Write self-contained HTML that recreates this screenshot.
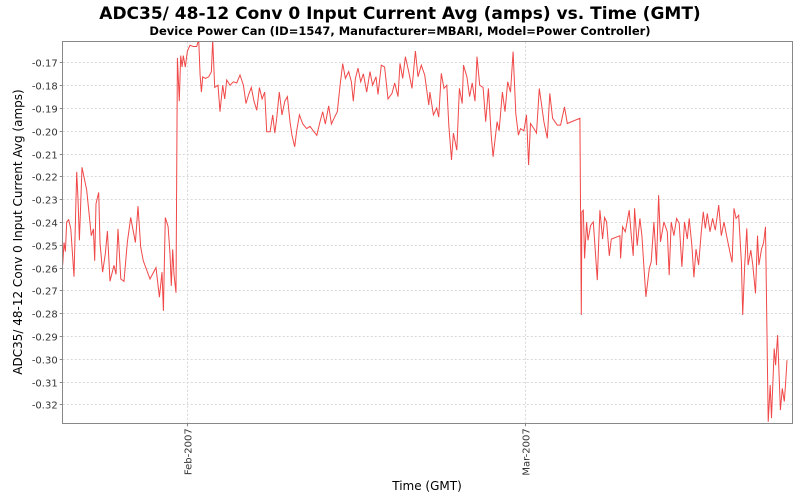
<!DOCTYPE html>
<html><head><meta charset="utf-8"><style>
html,body{margin:0;padding:0;background:#fff;}
svg{display:block;font-family:"DejaVu Sans","Liberation Sans",sans-serif;}
</style></head><body>
<svg id="chart" width="800" height="500">
<rect x="0" y="0" width="800" height="500" fill="#fff"/>
<text x="400" y="19" text-anchor="middle" font-size="17" font-weight="bold" fill="#000">ADC35/ 48-12 Conv 0 Input Current Avg (amps) vs. Time (GMT)</text>
<text x="400" y="35" text-anchor="middle" font-size="11.5" font-weight="bold" fill="#000">Device Power Can (ID=1547, Manufacturer=MBARI, Model=Power Controller)</text>
<g id="grid"></g>
<g id="yticks"></g>
<g id="xticks"></g>
<g id="series"></g>
<rect x="62.5" y="41.5" width="730" height="382" fill="none" stroke="#888" stroke-width="1"/>
<text transform="translate(22,232) rotate(-90)" text-anchor="middle" font-size="12" fill="#000">ADC35/ 48-12 Conv 0 Input Current Avg (amps)</text>
<text x="427" y="490" text-anchor="middle" font-size="12" fill="#000">Time (GMT)</text>
</svg>
<script>
// days relative to 2007-02-01 00:00 GMT
const times = [-10.30,-10.19,-10.08,-9.97,-9.80,-9.63,-9.36,-9.14,-9.03,-8.92,-8.70,-8.31,-7.93,-7.76,-7.65,-7.54,-7.32,-7.21,-6.99,-6.77,-6.60,-6.38,-6.05,-5.88,-5.72,-5.49,-5.22,-4.95,-4.67,-4.28,-4.06,-3.84,-3.62,-3.07,-2.57,-2.29,-2.07,-1.96,-1.80,-1.57,-1.41,-1.30,-1.19,-1.08,-0.91,-0.80,-0.64,-0.52,-0.41,-0.31,-0.14,0.03,0.25,0.52,0.80,0.97,1.08,1.19,1.30,1.52,1.80,2.02,2.13,2.29,2.57,2.73,2.96,3.12,3.29,3.56,3.84,4.12,4.39,4.67,4.89,5.11,5.33,5.55,5.78,6.00,6.22,6.44,6.60,6.88,7.10,7.27,7.43,7.65,7.87,8.10,8.32,8.53,8.70,8.92,9.09,9.31,9.59,9.92,10.19,10.46,10.75,11.02,11.24,11.46,11.74,11.96,12.18,12.45,12.68,12.90,13.12,13.40,13.62,13.78,13.95,14.17,14.39,14.61,14.89,15.16,15.38,15.66,15.82,16.10,16.37,16.65,16.98,17.21,17.48,17.65,17.87,18.09,18.37,18.64,18.92,19.14,19.41,19.69,20.03,20.12,20.41,20.69,20.85,21.07,21.29,21.52,21.69,21.91,22.07,22.35,22.57,22.80,22.91,23.19,23.41,23.63,23.86,24.03,24.25,24.53,24.75,24.97,25.20,25.36,25.69,25.86,26.13,26.35,26.57,26.80,27.02,27.24,27.46,27.63,27.91,28.13,28.30,28.46,28.74,28.96,29.19,29.57,29.85,30.06,30.29,30.68,30.95,31.28,31.51,32.55,32.67,32.72,32.83,32.94,33.11,33.22,33.44,33.66,33.99,34.21,34.43,34.60,34.76,34.99,35.15,35.87,35.92,36.09,36.31,36.64,36.81,36.97,37.08,37.30,37.52,37.69,37.85,38.02,38.30,38.46,38.68,38.90,39.07,39.23,39.51,39.79,39.95,40.12,40.34,40.56,40.78,41.00,41.22,41.45,41.61,41.83,42.00,42.17,42.39,42.61,42.78,42.94,43.11,43.33,43.55,43.77,44.05,44.27,44.49,44.71,44.93,45.16,45.32,45.49,45.71,45.93,46.04,46.21,46.38,46.49,46.71,46.88,47.10,47.27,47.38,47.60,47.77,47.93,48.15,48.32,48.43,48.65,48.77,48.93,49.16,49.32,49.49,49.60,49.71];
const values = [-0.2588,-0.249,-0.253,-0.240,-0.239,-0.243,-0.264,-0.218,-0.230,-0.248,-0.216,-0.226,-0.246,-0.243,-0.257,-0.232,-0.227,-0.249,-0.262,-0.254,-0.244,-0.266,-0.259,-0.263,-0.243,-0.265,-0.266,-0.249,-0.238,-0.249,-0.233,-0.251,-0.257,-0.265,-0.260,-0.273,-0.262,-0.279,-0.238,-0.242,-0.254,-0.268,-0.252,-0.263,-0.271,-0.168,-0.187,-0.167,-0.172,-0.167,-0.172,-0.165,-0.1625,-0.163,-0.163,-0.160,-0.1755,-0.183,-0.1763,-0.177,-0.1763,-0.174,-0.160,-0.181,-0.180,-0.1916,-0.180,-0.186,-0.1777,-0.180,-0.1785,-0.179,-0.1755,-0.180,-0.188,-0.184,-0.181,-0.187,-0.191,-0.181,-0.186,-0.183,-0.2004,-0.2004,-0.193,-0.201,-0.1945,-0.183,-0.193,-0.187,-0.185,-0.196,-0.202,-0.207,-0.200,-0.193,-0.197,-0.199,-0.198,-0.200,-0.202,-0.196,-0.1916,-0.197,-0.189,-0.197,-0.1945,-0.1916,-0.180,-0.1705,-0.177,-0.174,-0.1785,-0.187,-0.177,-0.1725,-0.1785,-0.175,-0.183,-0.174,-0.180,-0.1763,-0.184,-0.1712,-0.172,-0.186,-0.1836,-0.179,-0.185,-0.1704,-0.177,-0.1675,-0.174,-0.1814,-0.165,-0.1763,-0.1712,-0.1755,-0.1887,-0.183,-0.193,-0.190,-0.194,-0.1748,-0.1814,-0.180,-0.1975,-0.2128,-0.201,-0.2085,-0.1814,-0.188,-0.1712,-0.1763,-0.185,-0.179,-0.187,-0.1675,-0.180,-0.181,-0.196,-0.1814,-0.2019,-0.2114,-0.196,-0.200,-0.183,-0.1916,-0.1785,-0.183,-0.1653,-0.1924,-0.2019,-0.199,-0.200,-0.193,-0.215,-0.1968,-0.199,-0.201,-0.1814,-0.196,-0.2033,-0.1836,-0.1945,-0.1975,-0.1975,-0.1895,-0.1968,-0.1945,-0.2808,-0.2355,-0.2348,-0.256,-0.240,-0.248,-0.2415,-0.240,-0.2655,-0.2348,-0.2475,-0.238,-0.240,-0.2548,-0.2475,-0.246,-0.256,-0.2421,-0.2443,-0.2348,-0.246,-0.2548,-0.234,-0.2504,-0.2384,-0.246,-0.2589,-0.2728,-0.2604,-0.2575,-0.240,-0.2589,-0.2282,-0.2487,-0.240,-0.2443,-0.2633,-0.240,-0.246,-0.2384,-0.2406,-0.2597,-0.240,-0.2475,-0.2384,-0.2504,-0.2643,-0.2519,-0.2589,-0.2443,-0.2355,-0.2428,-0.2362,-0.2443,-0.2384,-0.2436,-0.2326,-0.246,-0.240,-0.246,-0.2519,-0.2577,-0.234,-0.2384,-0.237,-0.2577,-0.2808,-0.2589,-0.2428,-0.2589,-0.2523,-0.2589,-0.2713,-0.246,-0.2589,-0.2519,-0.249,-0.2421,-0.3276,-0.3115,-0.326,-0.2955,-0.3028,-0.2896,-0.3225,-0.313,-0.3188,-0.3101,-0.3006];
const yTicks = [-0.17,-0.18,-0.19,-0.20,-0.21,-0.22,-0.23,-0.24,-0.25,-0.26,-0.27,-0.28,-0.29,-0.30,-0.31,-0.32];
const xTickDays = [0, 28];
const xTickLabels = ["Feb-2007", "Mar-2007"];

const X0=62.7, X1=792.3, Y0=41.7, Y1=423.3;
const xMin=-10.30, xMax=50.15, yMin=-0.3283, yMax=-0.1609;
const NS='http://www.w3.org/2000/svg';
function xs(d){return X0+(d-xMin)/(xMax-xMin)*(X1-X0);}
function ys(v){return Y1-(v-yMin)/(yMax-yMin)*(Y1-Y0);}
function mk(tag,attrs,parent){const e=document.createElementNS(NS,tag);for(const k in attrs)e.setAttribute(k,attrs[k]);parent.appendChild(e);return e;}
const grid=document.getElementById('grid'), yg=document.getElementById('yticks'), xg=document.getElementById('xticks'), sg=document.getElementById('series');
yTicks.forEach(v=>{
  const y=Math.round(ys(v))+0.5;
  const gl=mk('line',{x1:X0,x2:X1,y1:y,y2:y,stroke:'#d8d8d8','stroke-dasharray':'2,2'},grid);
  
  
  mk('line',{x1:X0-3,x2:X0,y1:y,y2:y,stroke:'#888'},yg);
  const t=mk('text',{x:X0-5,y:y+4,'text-anchor':'end','font-size':'10','fill':'#333'},yg);
  t.textContent=v.toFixed(2);
  
  
});
xTickDays.forEach((d,i)=>{
  const x=Math.round(xs(d))+0.5;
  const gl=mk('line',{x1:x,x2:x,y1:Y0,y2:Y1,stroke:'#d8d8d8','stroke-dasharray':'2,2'},grid);
  
  
  mk('line',{x1:x,x2:x,y1:Y1,y2:Y1+3,stroke:'#888'},xg);
  const t=mk('text',{transform:'translate('+(x+4)+','+(Y1+5)+') rotate(-90)','text-anchor':'end','font-size':'10',fill:'#333'},xg);
  t.textContent=xTickLabels[i];
  
  
});
const clip=mk('clipPath',{id:'pc'},sg);
mk('rect',{x:X0,y:Y0,width:X1-X0,height:Y1-Y0},clip);
const pts=times.map((d,i)=>xs(d).toFixed(1)+','+ys(values[i]).toFixed(1)).join(' ');
const pl=mk('polyline',{points:pts,fill:'none',stroke:'#f04848','stroke-width':'1','clip-path':'url(#pc)'},sg);


</script>
</body></html>
